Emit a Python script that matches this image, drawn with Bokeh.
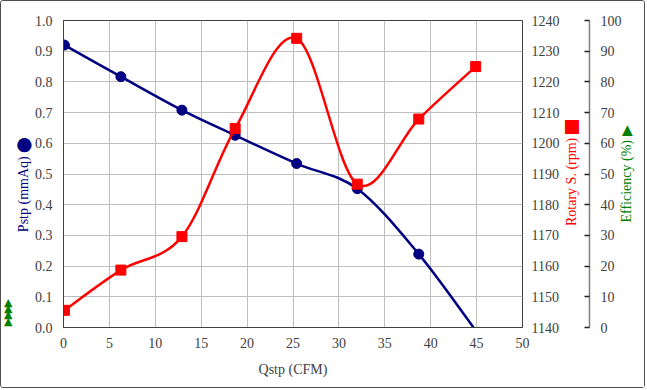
import numpy as np
from bokeh.plotting import figure
from bokeh.models import Range1d, LinearAxis, FixedTicker, PrintfTickFormatter
from bokeh.embed import file_html
from bokeh.resources import INLINE

# ---- data ----
qstp = [0.1, 6.25, 12.9, 18.7, 25.4, 32.0, 38.7, 44.9]          # Qstp (CFM)
pstp = [0.920, 0.817, 0.708, 0.626, 0.534, 0.452, 0.239, -0.01]  # Pstp (mmAq)
rotary = [1145.6, 1158.7, 1169.6, 1204.8, 1234.2, 1186.7, 1207.9, 1225.0]  # Rotary S. (rpm)
efficiency = [2.0, 4.1, 6.2, 8.3]  # efficiency marks shown at the far left (%)

x_ticks = [0, 5, 10, 15, 20, 25, 30, 35, 40, 45, 50]
p_ticks = [0.0, 0.1, 0.2, 0.3, 0.4, 0.5, 0.6, 0.7, 0.8, 0.9, 1.0]
rpm_ticks = [1140, 1150, 1160, 1170, 1180, 1190, 1200, 1210, 1220, 1230, 1240]
eff_ticks = [0, 10, 20, 30, 40, 50, 60, 70, 80, 90, 100]

NAVY = "#000080"
RED = "#FF0000"
GREEN = "#008000"
TXT = "#404040"
FONT = "Liberation Serif"
NB = "\u00a0"
EM = "\u2003"


def smooth_segments(xs, ys):
    x = np.asarray(xs, float)
    y = np.asarray(ys, float)
    xp = np.concatenate([[x[0]], x, [x[-1]]])
    yp = np.concatenate([[y[0]], y, [y[-1]]])
    n = len(x)
    i = np.arange(n - 1)
    return dict(
        x0=x[:-1], y0=y[:-1], x1=x[1:], y1=y[1:],
        cx0=x[:-1] + (xp[i + 2] - xp[i]) / 6.0,
        cy0=y[:-1] + (yp[i + 2] - yp[i]) / 6.0,
        cx1=x[1:] - (xp[i + 3] - xp[i + 1]) / 6.0,
        cy1=y[1:] - (yp[i + 3] - yp[i + 1]) / 6.0,
    )


p = figure(
    width=645, height=388,
    x_range=Range1d(0, 50), y_range=Range1d(0, 1),
    output_backend="svg", toolbar_location=None,
    min_border_left=62, min_border_right=124, min_border_top=19, min_border_bottom=62,
    background_fill_color="white", border_fill_color="white",
)
p.styles = {"border": "1px solid #505050", "border-radius": "3px"}
p.extra_y_ranges = {"rpm": Range1d(1140, 1240), "eff": Range1d(0, 100)}

p.outline_line_color = TXT
p.outline_line_width = 1

p.xgrid.ticker = FixedTicker(ticks=x_ticks)
p.ygrid.ticker = FixedTicker(ticks=p_ticks)
for g in (p.xgrid, p.ygrid):
    g.grid_line_color = "#BFBFBF"
    g.grid_line_width = 1

xa = p.xaxis[0]
xa.ticker = FixedTicker(ticks=x_ticks)
xa.axis_label = "Qstp (CFM)"
xa.major_label_standoff = 10
xa.axis_label_standoff = 11

ya = p.yaxis[0]
ya.ticker = FixedTicker(ticks=p_ticks)
ya.formatter = PrintfTickFormatter(format="%.1f")
ya.axis_label = "Pstp (mmAq) \u2B24" + NB * 6
ya.axis_label_text_color = NAVY
ya.major_label_standoff = 11
ya.axis_label_standoff = 1

# outermost left axis carrying the efficiency marks
ta = LinearAxis(y_range_name="eff", ticker=FixedTicker(ticks=efficiency),
                major_label_overrides={v: "\u25B2" for v in efficiency},
                axis_line_color=None, major_tick_out=0, major_tick_in=0,
                minor_tick_out=0, minor_tick_in=0,
                major_label_standoff=0, major_label_text_color=GREEN,
                major_label_text_font="DejaVu Sans", major_label_text_font_size="11px")

ra = LinearAxis(y_range_name="rpm", ticker=FixedTicker(ticks=rpm_ticks),
                axis_label=EM * 7 + NB + "Rotary S. (rpm) \u2B1B\uFE0E", axis_label_text_color=RED,
                major_label_standoff=9, axis_label_standoff=9)
sa = LinearAxis(y_range_name="eff", ticker=FixedTicker(ticks=[]),
                axis_line_color=None, major_tick_out=11, major_tick_in=0,
                major_tick_line_color=None, minor_tick_line_color=None)
ea = LinearAxis(y_range_name="eff", ticker=FixedTicker(ticks=eff_ticks),
                axis_label=EM * 7 + NB * 2 + "Efficiency (%) \u25B6\uFE0E", axis_label_text_color=GREEN,
                major_label_standoff=11, axis_label_standoff=2)

for ax in (xa, ya, ra):
    ax.major_tick_out = 0
    ax.major_tick_in = 0
    ax.minor_tick_out = 0
    ax.minor_tick_in = 0
    ax.axis_line_color = TXT
    ax.axis_line_width = 1
ra.axis_line_color = None

ea.axis_line_color = "#808080"
ea.axis_line_width = 1.5
ea.major_tick_in = 5
ea.major_tick_out = 0
ea.major_tick_line_color = "#202020"
ea.major_tick_line_width = 1.5
ea.minor_tick_out = 0
ea.minor_tick_in = 0

for ax in (xa, ya, ra, ea):
    ax.major_label_text_font = FONT
    ax.major_label_text_font_size = "14px"
    ax.major_label_text_color = TXT
    ax.axis_label_text_font = FONT
    ax.axis_label_text_font_size = "14px"
    ax.axis_label_text_font_style = "normal"
xa.axis_label_text_color = TXT
for ax in (ra, ea):
    ax.axis_label_orientation = np.pi / 2
    ax.axis_label_align = "start"

p.add_layout(ta, "left")
p.add_layout(ra, "right")
p.add_layout(sa, "right")
p.add_layout(ea, "right")

bz = smooth_segments(qstp, pstp)
p.bezier(line_color=NAVY, line_width=2.5, line_cap="round", **bz)
mq = [q for q, v in zip(qstp, pstp) if v >= 0]
mv = [v for v in pstp if v >= 0]
p.scatter(mq, mv, marker="circle", size=10, fill_color=NAVY, line_color=NAVY)

bz2 = smooth_segments(qstp, rotary)
p.bezier(line_color=RED, line_width=2.5, line_cap="round", y_range_name="rpm", **bz2)
p.scatter(qstp, rotary, marker="square", size=10, fill_color=RED, line_color=RED,
          y_range_name="rpm")

open("out.html", "w").write(file_html(p, INLINE))
